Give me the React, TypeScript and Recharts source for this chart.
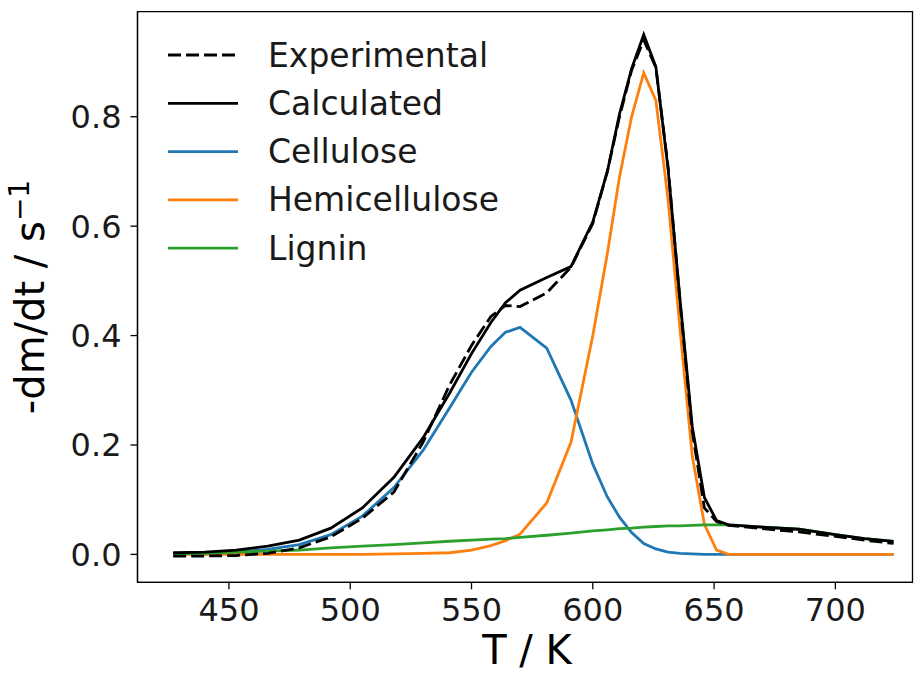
import React from 'react';
import { LineChart, Line, XAxis, YAxis, ReferenceArea } from 'recharts';

// ---- data ----
const temperatures = [427, 440, 453, 466, 479, 492, 505, 518, 530, 541, 550, 558, 564, 570, 581, 591, 600, 606, 611, 616, 621, 626, 631, 636, 641, 646, 651, 656, 670, 685, 700, 712, 724];
const experimental = [-0.003, -0.003, -0.002, 0.002, 0.012, 0.032, 0.066, 0.114, 0.205, 0.31, 0.382, 0.435, 0.455, 0.453, 0.478, 0.525, 0.605, 0.7, 0.8, 0.885, 0.94, 0.89, 0.71, 0.46, 0.225, 0.085, 0.06, 0.053, 0.047, 0.041, 0.033, 0.026, 0.02];
const calculated = [0.003, 0.004, 0.008, 0.015, 0.026, 0.048, 0.085, 0.141, 0.213, 0.295, 0.367, 0.424, 0.46, 0.483, 0.506, 0.526, 0.608, 0.7, 0.805, 0.888, 0.95, 0.891, 0.706, 0.464, 0.234, 0.104, 0.062, 0.054, 0.05, 0.046, 0.036, 0.029, 0.024];
const cellulose = [0.002, 0.002, 0.004, 0.009, 0.018, 0.036, 0.07, 0.122, 0.19, 0.268, 0.333, 0.38, 0.406, 0.415, 0.377, 0.282, 0.165, 0.105, 0.068, 0.04, 0.02, 0.01, 0.004, 0.002, 0.001, 0, 0, 0, 0, 0, 0, 0, 0];
const hemicellulose = [0, 0, 0, 0, 0, 0, 0, 0.001, 0.002, 0.003, 0.008, 0.016, 0.025, 0.037, 0.094, 0.205, 0.4, 0.55, 0.69, 0.8, 0.88, 0.83, 0.65, 0.41, 0.18, 0.055, 0.008, 0, 0, 0, 0, 0, 0];
const lignin = [0.001, 0.002, 0.004, 0.006, 0.008, 0.012, 0.015, 0.018, 0.021, 0.024, 0.026, 0.028, 0.029, 0.031, 0.035, 0.039, 0.043, 0.045, 0.047, 0.048, 0.05, 0.051, 0.052, 0.052, 0.053, 0.054, 0.054, 0.054, 0.05, 0.046, 0.036, 0.029, 0.024];

const xTicks = [450, 500, 550, 600, 650, 700];
const yTicks = [0, 0.2, 0.4, 0.6, 0.8];
const xDomain: [number, number] = [412.3, 731.8];
const yDomain: [number, number] = [-0.051, 0.992];

const seriesList = [
  { key: 'experimental', name: 'Experimental', color: '#000000', dash: '13 5' },
  { key: 'calculated', name: 'Calculated', color: '#000000', dash: undefined },
  { key: 'cellulose', name: 'Cellulose', color: '#1f77b4', dash: undefined },
  { key: 'hemicellulose', name: 'Hemicellulose', color: '#ff7f0e', dash: undefined },
  { key: 'lignin', name: 'Lignin', color: '#2ca02c', dash: undefined },
];

const tableData = temperatures.map((t, i) => ({
  T: t,
  experimental: experimental[i],
  calculated: calculated[i],
  cellulose: cellulose[i],
  hemicellulose: hemicellulose[i],
  lignin: lignin[i],
}));

const W = 915;
const H = 674;
const FONT = '"DejaVu Sans", Verdana, sans-serif';
const PLOT = { left: 137.5, top: 11.7, right: 912.5, bottom: 582.3 };
const Y_AXIS_W = 80;
const X_AXIS_H = 70;

const XLabel = () => (
  <text x={(PLOT.left + PLOT.right) / 2 + 2} y={664} textAnchor="middle" fontFamily={FONT} fontSize={40} fill="#000">
    T / K
  </text>
);

const YLabel = () => {
  const cx = 44;
  const cy = (PLOT.top + PLOT.bottom) / 2;
  return (
    <text transform={`rotate(-90, ${cx}, ${cy})`} x={cx} y={cy} textAnchor="middle" fontFamily={FONT} fontSize={40} fill="#000">
      -dm/dt / s
      <tspan dy={-15} fontSize={28}>{'\u22121'}</tspan>
    </text>
  );
};

const LegendOverlay = () => {
  const rowY0 = 55;
  const rowGap = 48.3;
  return (
    <svg width={W} height={H} style={{ position: 'absolute', left: 0, top: 0, pointerEvents: 'none' }}>
      {seriesList.map((s, i) => {
        const y = rowY0 + i * rowGap;
        return (
          <g key={s.key}>
            <line x1={168} x2={238} y1={y} y2={y} stroke={s.color} strokeWidth={2.8} strokeDasharray={s.dash} />
            <text x={268} y={y + 11.5} fontFamily={FONT} fontSize={33} fill="#1a1a1a">
              {s.name}
            </text>
          </g>
        );
      })}
    </svg>
  );
};

export default function App() {
  const drawOrder = ['cellulose', 'hemicellulose', 'lignin', 'calculated', 'experimental'];
  return (
    <div style={{ position: 'absolute', left: 0, top: 0, width: W, height: H, background: '#fff' }}>
      <LineChart
        width={W}
        height={H}
        data={tableData}
        margin={{ top: PLOT.top, right: W - PLOT.right, left: PLOT.left - Y_AXIS_W, bottom: H - PLOT.bottom - X_AXIS_H }}
      >
        <XAxis
          dataKey="T"
          type="number"
          domain={xDomain}
          allowDataOverflow
          ticks={xTicks}
          height={X_AXIS_H}
          tickSize={7}
          tickMargin={9}
          axisLine={{ stroke: '#000', strokeWidth: 1.3 }}
          tickLine={{ stroke: '#000', strokeWidth: 1.3 }}
          tick={{ fill: '#1a1a1a', fontSize: 32, fontFamily: FONT }}
          label={{ content: () => <XLabel /> }}
        />
        <YAxis
          type="number"
          domain={yDomain}
          allowDataOverflow
          ticks={yTicks}
          width={Y_AXIS_W}
          tickSize={7}
          tickMargin={9}
          tickFormatter={(v: number) => v.toFixed(1)}
          axisLine={{ stroke: '#000', strokeWidth: 1.3 }}
          tickLine={{ stroke: '#000', strokeWidth: 1.3 }}
          tick={{ fill: '#1a1a1a', fontSize: 32, fontFamily: FONT }}
          label={{ content: () => <YLabel /> }}
        />
        <ReferenceArea
          x1={xDomain[0]}
          x2={xDomain[1]}
          y1={yDomain[0]}
          y2={yDomain[1]}
          fill="none"
          stroke="#000"
          strokeWidth={1.3}
          ifOverflow="visible"
        />
        {drawOrder.map((k) => {
          const s = seriesList.find((x) => x.key === k)!;
          return (
            <Line
              key={s.key}
              type="linear"
              dataKey={s.key}
              name={s.name}
              stroke={s.color}
              strokeWidth={2.8}
              strokeDasharray={s.dash}
              dot={false}
              activeDot={false}
              isAnimationActive={false}
            />
          );
        })}
      </LineChart>
      <LegendOverlay />
    </div>
  );
}
